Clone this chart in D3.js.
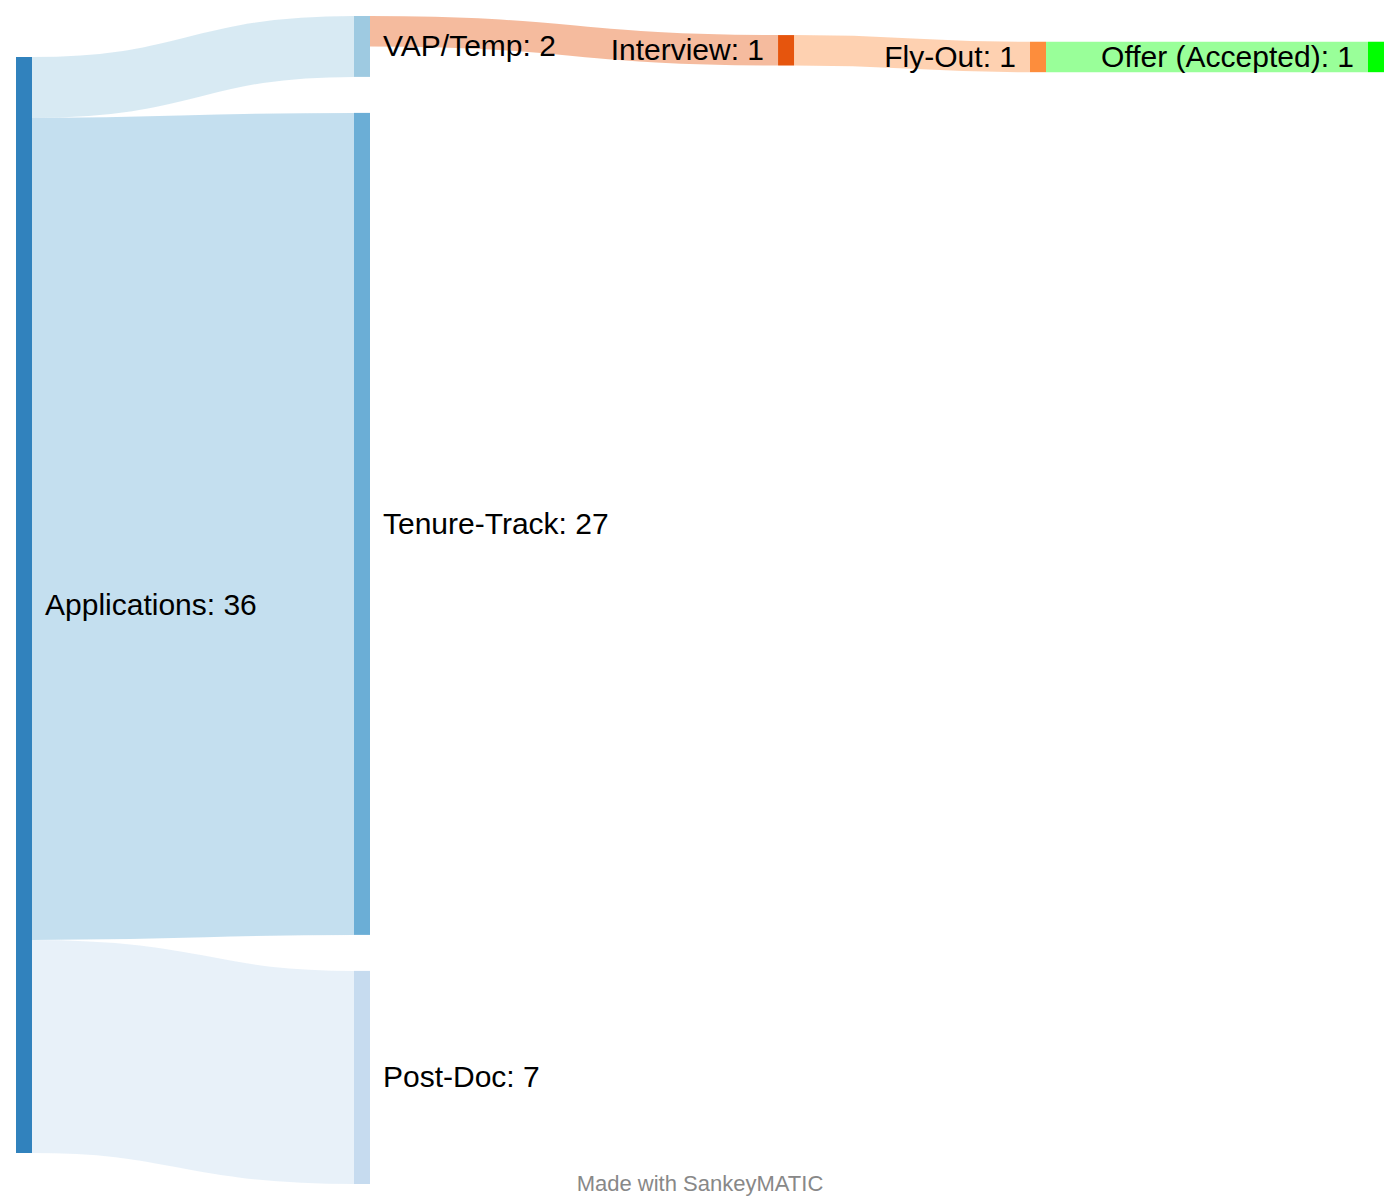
<!DOCTYPE html>
<html><head><meta charset="utf-8">
<script src="https://cdn.jsdelivr.net/npm/d3@7"></script>
<style>body{margin:0;background:#fff}</style>
</head><body><svg id="chart" width="1400" height="1200"></svg>
<script>
// ---- data ----
const nodeNames  = ["Applications","VAP/Temp","Tenure-Track","Post-Doc","Interview","Fly-Out","Offer (Accepted)"];
const nodeColors = ["#3182bd","#9ecae1","#6baed6","#c6dbef","#e6550d","#fd8d3c","#00ff00"];
const flowSources = ["Applications","Applications","Applications","VAP/Temp","Interview","Fly-Out"];
const flowTargets = ["VAP/Temp","Tenure-Track","Post-Doc","Interview","Fly-Out","Offer (Accepted)"];
const flowValues  = [2, 27, 7, 1, 1, 1];
// manual node moves (fraction of diagram width / height), as in SankeyMATIC "move" lines
const moveNodes = ["Interview", "Fly-Out", "Offer (Accepted)"];
const moveDx    = [0.0629, 0, 0];
const moveDy    = [0.0033, 0.009, 0.009];
const creditText = "Made with SankeyMATIC";

// ---- layout (d3-sankey style, input order kept) ----
const W = 1400, H = 1200;
const margin = {left: 16, right: 16, top: 16, bottom: 16};
const size = [W - margin.left - margin.right, H - margin.top - margin.bottom];
const nodeWidth = 16, nodePadding = 36, iterations = 25, curvature = 0.5;

const nodes = nodeNames.map((name, i) => ({name, index: i, color: nodeColors[i], sourceLinks: [], targetLinks: []}));
const byName = new Map(nodes.map(n => [n.name, n]));
const links = flowValues.map((v, i) => ({source: byName.get(flowSources[i]), target: byName.get(flowTargets[i]), value: v}));
links.forEach(l => { l.source.sourceLinks.push(l); l.target.targetLinks.push(l); });
nodes.forEach(n => n.value = Math.max(d3.sum(n.sourceLinks, l => l.value), d3.sum(n.targetLinks, l => l.value)));

// columns by depth (left aligned)
let remaining = nodes.filter(n => !n.targetLinks.length), depth = 0;
while (remaining.length) {
  const next = [];
  remaining.forEach(n => { n.depth = depth; n.sourceLinks.forEach(l => next.push(l.target)); });
  remaining = Array.from(new Set(next)); depth++;
}
const maxDepth = d3.max(nodes, n => n.depth);
const xScale = d3.scaleLinear().domain([0, maxDepth]).range([0, size[0] - nodeWidth]);
nodes.forEach(n => { n.x = xScale(n.depth); n.dx = nodeWidth; });

const columns = d3.range(maxDepth + 1).map(d => nodes.filter(n => n.depth === d));
const ky = d3.min(columns, col => (size[1] - (col.length - 1) * nodePadding) / d3.sum(col, n => n.value));
const vScale = d3.scaleLinear().domain([0, 1]).range([0, ky]);
columns.forEach(col => col.forEach((n, i) => { n.y = i; n.dy = vScale(n.value); }));
links.forEach(l => l.dy = vScale(l.value));

const center = n => n.y + n.dy / 2;
function resolveColumn(col) {
  let y0 = 0, node, dy;
  col.sort((a, b) => a.index - b.index);
  for (let i = 0; i < col.length; ++i) {
    node = col[i]; dy = y0 - node.y;
    if (dy > 0) node.y += dy;
    y0 = node.y + node.dy + nodePadding;
  }
  dy = y0 - nodePadding - size[1];
  if (dy > 0) {
    y0 = node.y -= dy;
    for (let i = col.length - 2; i >= 0; --i) {
      node = col[i];
      dy = node.y + node.dy + nodePadding - y0;
      if (dy > 0) node.y -= dy;
      y0 = node.y;
    }
  }
}
function relaxLeftToRight(alpha) {
  columns.forEach(col => {
    col.forEach(n => {
      if (n.targetLinks.length) {
        const y = d3.sum(n.targetLinks, l => center(l.source) * l.value) / d3.sum(n.targetLinks, l => l.value);
        n.y += (y - center(n)) * alpha;
      }
    });
    resolveColumn(col);
  });
}
function relaxRightToLeft(alpha) {
  columns.slice().reverse().forEach(col => {
    col.forEach(n => {
      if (n.sourceLinks.length) {
        const y = d3.sum(n.sourceLinks, l => center(l.target) * l.value) / d3.sum(n.sourceLinks, l => l.value);
        n.y += (y - center(n)) * alpha;
      }
    });
    resolveColumn(col);
  });
}
columns.forEach(resolveColumn);
for (let alpha = 1, it = iterations; it > 0; --it) {
  relaxRightToLeft(alpha *= 0.99);
  relaxLeftToRight(alpha);
}
// manual moves
moveNodes.forEach((name, i) => {
  const n = byName.get(name);
  n.x += moveDx[i] * size[0];
  n.y += moveDy[i] * size[1];
});
// link depths
nodes.forEach(n => {
  n.sourceLinks.sort((a, b) => a.target.y - b.target.y);
  n.targetLinks.sort((a, b) => a.source.y - b.source.y);
  let sy = 0, ty = 0;
  n.sourceLinks.forEach(l => { l.sy = sy; sy += l.dy; });
  n.targetLinks.forEach(l => { l.ty = ty; ty += l.dy; });
});

// ---- draw ----
const svg = d3.select("#chart");
const g = svg.append("g").attr("transform", `translate(${margin.left},${margin.top})`);

function linkPath(l) {
  const x0 = l.source.x + l.source.dx, x1 = l.target.x;
  const xi = d3.interpolateNumber(x0, x1), x2 = xi(curvature), x3 = xi(1 - curvature);
  const y0 = l.source.y + l.sy + l.dy / 2, y1 = l.target.y + l.ty + l.dy / 2;
  return `M${x0},${y0}C${x2},${y0} ${x3},${y1} ${x1},${y1}`;
}
g.append("g").selectAll("path").data(links).join("path")
  .attr("d", linkPath)
  .attr("fill", "none")
  .attr("stroke", l => l.target.color)
  .attr("stroke-opacity", 0.4)
  .attr("stroke-width", l => Math.max(1, l.dy));

g.append("g").selectAll("rect").data(nodes).join("rect")
  .attr("x", n => n.x).attr("y", n => n.y)
  .attr("width", n => n.dx).attr("height", n => n.dy)
  .attr("fill", n => n.color);

g.append("g").selectAll("text").data(nodes).join("text")
  .attr("x", n => n.x < size[0] / 2 ? n.x + n.dx + 13 : n.x - 14)
  .attr("y", n => center(n))
  .attr("dy", "0.33em")
  .attr("text-anchor", n => n.x < size[0] / 2 ? "start" : "end")
  .attr("font-family", "Liberation Sans, Arial, Helvetica, sans-serif")
  .attr("font-size", 30)
  .attr("fill", "#000")
  .text(n => `${n.name}: ${n.value}`);

svg.append("text")
  .attr("x", W / 2).attr("y", 1191)
  .attr("text-anchor", "middle")
  .attr("font-family", "Liberation Sans, Arial, Helvetica, sans-serif")
  .attr("font-size", 22)
  .attr("fill", "#888")
  .text(creditText);
</script></body></html>
